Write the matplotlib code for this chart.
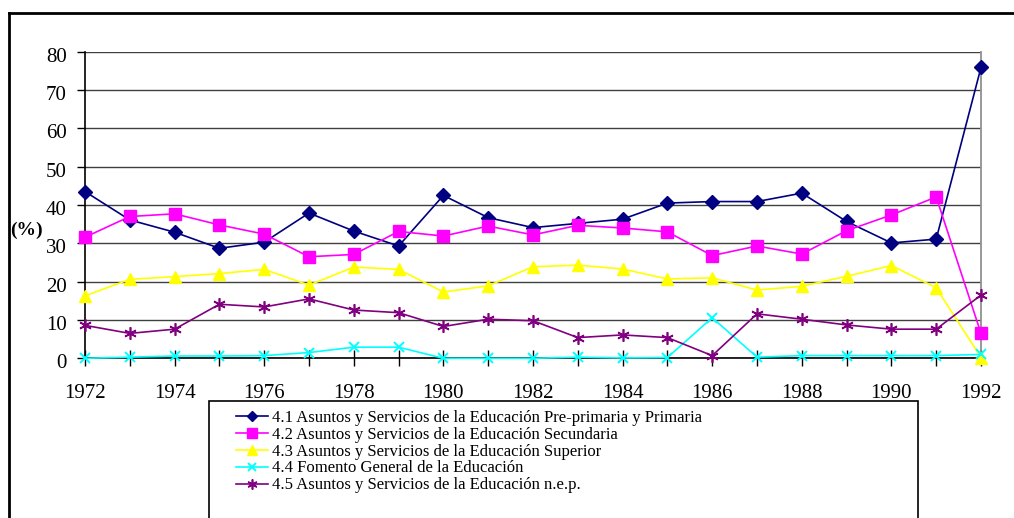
import matplotlib
matplotlib.use("Agg")
import matplotlib.pyplot as plt
from matplotlib.lines import Line2D
from matplotlib.patches import Rectangle
from matplotlib.transforms import ScaledTranslation

years = list(range(1972, 1993))
primaria = [43.5, 36.1, 32.9, 28.7, 30.3, 37.9, 33.2, 29.3, 42.5, 36.7, 34.1,
            35.2, 36.3, 40.5, 40.9, 40.9, 43.1, 35.7, 30.1, 31.1, 75.9]
secundaria = [31.6, 37.0, 37.7, 34.8, 32.4, 26.5, 27.1, 33.1, 31.9, 34.5, 32.2,
              34.7, 34.0, 33.0, 26.8, 29.3, 27.2, 33.3, 37.4, 42.1, 6.5]
superior = [16.3, 20.6, 21.3, 22.1, 23.2, 19.1, 23.8, 23.2, 17.3, 18.9, 23.9,
            24.3, 23.3, 20.7, 21.0, 17.8, 18.8, 21.4, 24.2, 18.4, 0.2]
fomento = [0.0, 0.3, 0.6, 0.6, 0.7, 1.5, 2.9, 2.9, 0.0, 0.0, 0.0,
           0.3, 0.1, 0.2, 10.6, 0.3, 0.7, 0.7, 0.7, 0.7, 1.0]
nep = [8.6, 6.5, 7.6, 14.1, 13.4, 15.5, 12.6, 11.9, 8.3, 10.2, 9.8,
       5.4, 6.1, 5.4, 0.7, 11.6, 10.2, 8.7, 7.6, 7.6, 16.5]
labels = [
    "4.1 Asuntos y Servicios de la Educación Pre-primaria y Primaria",
    "4.2 Asuntos y Servicios de la Educación Secundaria",
    "4.3 Asuntos y Servicios de la Educación Superior",
    "4.4 Fomento General de la Educación",
    "4.5 Asuntos y Servicios de la Educación n.e.p.",
]
y_ticks = [0, 10, 20, 30, 40, 50, 60, 70, 80]
x_label_years = list(range(1972, 1993, 2))

plt.rcParams['font.family'] = ['Liberation Serif', 'DejaVu Serif']

W, H = 1014, 518
fig = plt.figure(figsize=(W / 100, H / 100), dpi=100)
ax = fig.add_axes([85 / W, 1 - 358.3 / H, (981 - 85) / W, (358.3 - 51.7) / H])

series = [primaria, secundaria, superior, fomento, nep]
styles = [
    dict(color='#000080', marker='D', ms=7),
    dict(color='#FF00FF', marker='s', ms=8.5),
    dict(color='#FFFF00', marker='^', ms=9),
    dict(color='#00FFFF', marker='x', ms=7.5, mew=1.4),
    dict(color='#800080', marker=(6, 2, 0), ms=9, mew=1.2),
]
handles = []
for vals, st, lab in zip(series, styles, labels):
    h, = ax.plot(years, vals, lw=1.2, clip_on=False, label=lab, zorder=3, **st)
    handles.append(h)

ax.set_xlim(1972, 1992)
ax.set_ylim(0, 80)
ax.set_yticks(y_ticks)
ax.set_xticks(x_label_years)
ax.set_xticks(years, minor=True)
ax.grid(axis='y', color='#404040', lw=1.0, zorder=1)
ax.spines['top'].set_visible(False)
ax.spines['right'].set_color('#909090')
ax.spines['right'].set_linewidth(1.3)
ax.spines['left'].set_linewidth(1.2)
ax.spines['bottom'].set_linewidth(1.2)
ax.tick_params(axis='y', direction='out', length=6, width=1, pad=7, labelsize=15)
ax.tick_params(axis='x', which='both', direction='inout', length=11, width=1, pad=13, labelsize=15)
ax.tick_params(axis='x', which='minor', labelbottom=False)
off = ScaledTranslation(0, -3 / 100, fig.dpi_scale_trans)
for lbl in ax.get_yticklabels():
    lbl.set_transform(lbl.get_transform() + off)

fig.text(10 / W, 1 - 230 / H, '(%)', fontsize=14, fontweight='bold', va='center', ha='left')

# outer frame
fig.add_artist(Line2D([8.5 / W, 1.0], [1 - 13 / H, 1 - 13 / H], transform=fig.transFigure, color='black', lw=2))
fig.add_artist(Line2D([8.5 / W, 8.5 / W], [1 - 13 / H, 0], transform=fig.transFigure, color='black', lw=2))

# legend box
fig.add_artist(Rectangle((208.5 / W, -0.05), (918 - 208.5) / W, (1 - 400.5 / H) + 0.05,
                         transform=fig.transFigure, fill=False, ec='black', lw=1.2))
leg = fig.legend(handles=handles, loc='upper left', bbox_to_anchor=(236 / W, 1 - 410 / H),
                 frameon=False, fontsize=12, handlelength=1.92, handletextpad=0.25,
                 labelspacing=0.05, borderaxespad=0, borderpad=0, markerscale=0.8)

fig.savefig('out.png', dpi=100)
